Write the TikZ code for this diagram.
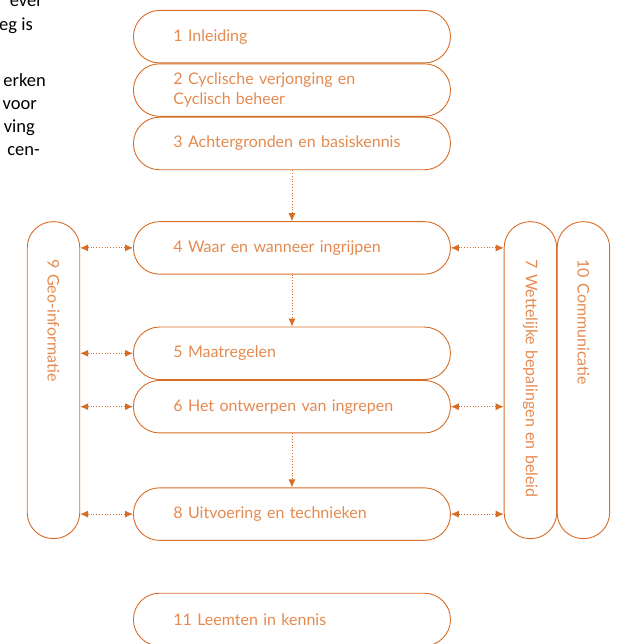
\documentclass[tikz,border=0pt]{standalone}
\usepackage{fontspec}
\setmainfont{Lato}
\newfontfamily\bodyfont{Carlito}
\usepackage{tikz}
\usetikzlibrary{positioning, arrows.meta}

\definecolor{boxline}{RGB}{214,108,38}
\definecolor{boxtext}{RGB}{228,138,80}

\begin{document}
\begin{tikzpicture}[node distance=52pt]

	\tikzstyle{box}=[draw=boxline, line width=0.9pt, rounded corners=26pt, minimum width=317pt, minimum height=52.5pt, text width=237pt, inner xsep=40pt, align=left, text=boxtext, font=\fontsize{16}{20}\selectfont]
	\tikzstyle{sidebox}=[box, rotate=-90, minimum width=317pt, text width=241pt, inner xsep=38pt, anchor=west]

	\tikzstyle{flow}=[-{Latex[length=8pt,width=7pt]}, dotted, boxline, line width=0.8pt]
	\tikzstyle{link}=[{Latex[length=8pt,width=7pt]}-{Latex[length=8pt,width=7pt]}, dotted, boxline, line width=0.8pt]

	\tikzstyle{cut}=[anchor=base east, inner sep=0pt, text=black, font=\bodyfont\fontsize{18.5}{22}\selectfont]

	\useasboundingbox (0,0) rectangle (621pt,644pt);

	% text of the page beside the figure
	\node[cut] (t1) at (43pt,637pt) {ever};
	\node[cut] (t2) at (33pt,613pt) {eg is};
	\node[cut] (t3) at (46pt,557pt) {erken};
	\node[cut] (t4) at (37pt,534pt) {voor};
	\node[cut] (t5) at (35pt,511pt) {ving};
	\node[cut] (t6) at (40pt,488pt) {cen-};

	% main column
	\node[box, anchor=north west] (b1) at (133pt,634pt) {1 Inleiding};
	\node[box, below=0pt of b1] (b2) {2 Cyclische verjonging en\\Cyclisch beheer};
	\node[box, below=0pt of b2] (b3) {3 Achtergronden en basiskennis};
	\node[box, below=51pt of b3] (b4) {4 Waar en wanneer ingrijpen};
	\node[box, below=of b4] (b5) {5 Maatregelen};
	\node[box, below=0pt of b5] (b6) {6 Het ontwerpen van ingrepen};
	\node[box, below=54pt of b6] (b8) {8 Uitvoering en technieken};
	\node[box, below=of b8] (b11) {11 Leemten in kennis};

	% side columns
	\node[sidebox] (b9) at ([xshift=-79.5pt]b4.north west) {9 Geo-informatie};
	\node[sidebox] (b7) at ([xshift=79.5pt]b4.north east) {7 Wettelijke bepalingen en beleid};
	\node[sidebox] (b10) at ([xshift=53pt]b7.west) {10 Communicatie};

	\draw[flow] (b3) -- (b4);
	\draw[flow] (b4) -- (b5);
	\draw[flow] (b6) -- (b8);

	\draw[link] (b4.west -| b9.north) -- (b4.west);
	\draw[link] (b5.west -| b9.north) -- (b5.west);
	\draw[link] (b6.west -| b9.north) -- (b6.west);
	\draw[link] (b8.west -| b9.north) -- (b8.west);

	\draw[link] (b4.east) -- (b4.east -| b7.south);
	\draw[link] (b6.east) -- (b6.east -| b7.south);
	\draw[link] (b8.east) -- (b8.east -| b7.south);

\end{tikzpicture}
\end{document}
